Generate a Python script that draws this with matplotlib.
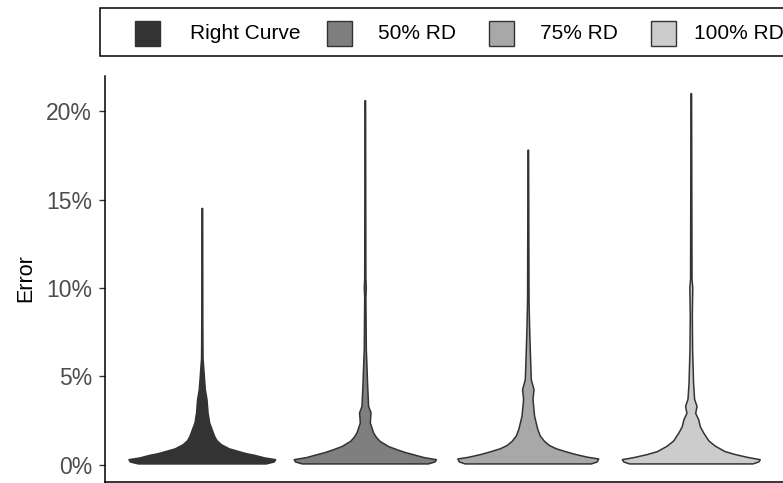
import matplotlib
matplotlib.use("Agg")
import matplotlib.pyplot as plt
from matplotlib.patches import Rectangle, Polygon
import numpy as np

plt.rcParams['font.family'] = ['Liberation Sans', 'DejaVu Sans']

# ---- data ----
categories = ["Right Curve", "50% RD", "75% RD", "100% RD"]
fill_colors = ["#333333", "#7F7F7F", "#A8A8A8", "#CCCCCC"]

# violin outline: error levels (%) and relative density (half-width, 1 = widest)
rc_levels = [0.04, 0.15, 0.28, 0.38, 0.53, 0.62, 0.75, 0.89, 1.13, 1.36, 1.6, 2.36, 2.93, 3.68, 4.25, 4.8, 5.57, 6.0, 8.0, 14.5]
rc_dens   = [0.87, 0.98, 1.00, 0.85, 0.71, 0.60, 0.49, 0.37, 0.26, 0.20, 0.168, 0.10, 0.078, 0.064, 0.041, 0.031, 0.018, 0.010, 0.007, 0.005]

rd50_levels = [0.04, 0.15, 0.28, 0.40, 0.57, 0.68, 0.85, 1.02, 1.32, 1.55, 1.8, 2.36, 2.93, 3.3, 4.6, 5.57, 6.5, 9.5, 10.0, 10.5, 20.6]
rd50_dens   = [0.86, 0.95, 0.97, 0.80, 0.65, 0.55, 0.43, 0.32, 0.20, 0.15, 0.113, 0.068, 0.078, 0.045, 0.031, 0.023, 0.014, 0.008, 0.014, 0.008, 0.004]

rd75_levels = [0.04, 0.15, 0.32, 0.42, 0.57, 0.72, 0.9, 1.08, 1.32, 1.62, 1.98, 2.74, 3.68, 4.25, 4.8, 6.5, 7.8, 9.3, 17.8]
rd75_dens   = [0.86, 0.94, 0.96, 0.81, 0.65, 0.52, 0.38, 0.29, 0.22, 0.164, 0.13, 0.086, 0.064, 0.078, 0.041, 0.027, 0.018, 0.010, 0.004]

rd100_levels = [0.04, 0.15, 0.28, 0.40, 0.57, 0.74, 1.04, 1.34, 1.8, 2.15, 2.55, 2.9, 3.3, 3.7, 4.6, 6.5, 8.4, 10.0, 10.5, 21.0]
rd100_dens   = [0.84, 0.92, 0.94, 0.78, 0.60, 0.46, 0.33, 0.24, 0.168, 0.123, 0.10, 0.06, 0.078, 0.045, 0.031, 0.018, 0.014, 0.02, 0.01, 0.004]

yticks = [0, 5, 10, 15, 20]
ytick_labels = ["0%", "5%", "10%", "15%", "20%"]

profiles = [(rc_levels, rc_dens), (rd50_levels, rd50_dens),
            (rd75_levels, rd75_dens), (rd100_levels, rd100_dens)]

# ---- figure ----
W, H = 783, 483
fig = plt.figure(figsize=(W / 100, H / 100), dpi=100)

ax_left, ax_right, ax_top, ax_bottom = 104.5, 783, 76, 482.3
ax = fig.add_axes([ax_left / W, (H - ax_bottom) / H, (ax_right - ax_left) / W, (ax_bottom - ax_top) / H])

half = 0.45
for i, ((lv, dn), col) in enumerate(zip(profiles, fill_colors)):
    xc = i + 1
    lv = np.asarray(lv, float)
    dn = np.asarray(dn, float) * half
    xs = np.concatenate([xc + dn, (xc - dn)[::-1]])
    ys = np.concatenate([lv, lv[::-1]])
    poly = Polygon(np.column_stack([xs, ys]), closed=True, facecolor=col,
                   edgecolor="#333333", linewidth=1.1, joinstyle="round")
    ax.add_patch(poly)

x_unit = 163.0
ax.set_xlim(0.4, 0.4 + (ax_right - ax_left) / x_unit)
ax.set_ylim(-1.0, 22.0)
ax.set_xticks([])
ax.set_yticks(yticks)
ax.set_yticklabels(ytick_labels)
ax.tick_params(axis="y", colors="#333333", labelcolor="#4D4D4D", labelsize=16.5,
               length=4, width=1.0, pad=5)
for s in ["top", "right"]:
    ax.spines[s].set_visible(False)
for s in ["left", "bottom"]:
    ax.spines[s].set_color("black")
    ax.spines[s].set_linewidth(1.1)

fig.text(26 / W, 1 - 278 / H, "Error", rotation=90, ha="center", va="center",
         fontsize=15.5, color="black")

# ---- legend ----
box = Rectangle((100 / W, 1 - 56 / H), (800 - 100) / W, 48 / H, transform=fig.transFigure,
                facecolor="white", edgecolor="black", linewidth=1.1)
fig.patches.append(box)
key_x = [135, 327, 489, 651]
text_x = [190, 378, 540, 694]
for kx, tx, lab, col in zip(key_x, text_x, categories, fill_colors):
    fig.patches.append(Rectangle((kx / W, 1 - 46 / H), 25 / W, 25 / H, transform=fig.transFigure,
                                 facecolor=col, edgecolor="#333333", linewidth=1.0))
    fig.text(tx / W, 1 - 33.5 / H, lab, ha="left", va="center", fontsize=15, color="black")

fig.savefig("out.png", dpi=100)
